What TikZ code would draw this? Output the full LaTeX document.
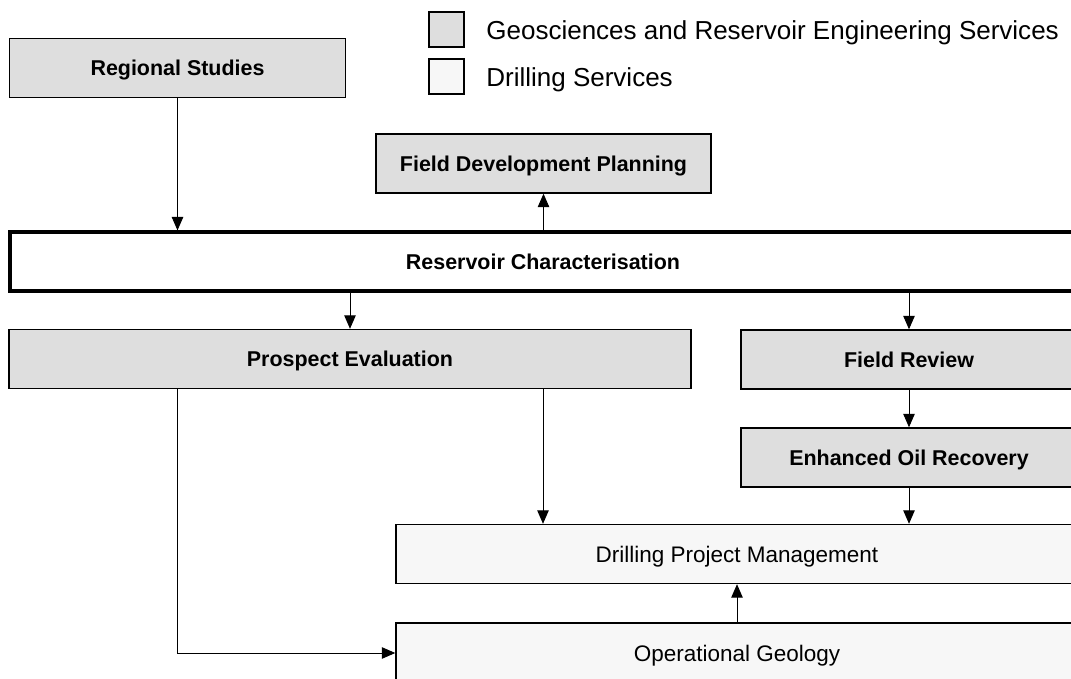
\documentclass[tikz,border=0pt]{standalone}
\usepackage{fontspec}
\setmainfont{Liberation Sans}
\usetikzlibrary{arrows.meta}
\tikzset{
geo box/.style = { rectangle, draw = black, line width = 0.8pt, fill = black!13, minimum height = 11.8mm, inner sep = 0pt, text height = 8.8pt, text depth = 0pt, font = \fontsize{12.2}{15}\selectfont\bfseries },
drill box/.style = { rectangle, draw = black, line width = 0.8pt, fill = black!3, minimum height = 11.8mm, inner sep = 0pt, text height = 9.2pt, text depth = 0pt, font = \fontsize{12.8}{15}\selectfont },
core box/.style = { rectangle, draw = black, line width = 1.8pt, fill = white, minimum height = 11.8mm, inner sep = 0pt, text height = 8.8pt, text depth = 0pt, font = \fontsize{12.2}{15}\selectfont\bfseries },
key/.style = { rectangle, draw = black, line width = 0.8pt, minimum size = 7mm, inner sep = 0pt },
key text/.style = { anchor = west, inner sep = 0pt, font = \fontsize{14.8}{17}\selectfont },
link/.style = { draw = black, line width = 0.55pt, -{Triangle[length = 2.7mm, width = 2.3mm]} },
}

\begin{document}
\begin{tikzpicture}
    \clip (0, 0) rectangle (21.42, -13.58);
    \useasboundingbox (0, 0) rectangle (21.42, -13.58);
    \fill[white] (0, 0) rectangle (21.42, -13.58);
    % legend
    \node[key, fill = black!13] (key geo) at (8.93, -0.59) {};
    \node[key, fill = black!3] (key drill) at (8.93, -1.53) {};
    \node[key text] (text geo) at (9.72, -0.65) {Geosciences and Reservoir Engineering Services};
    \node[key text] (text drill) at (9.72, -1.59) {Drilling Services};
    % boxes
    \node[geo box, minimum width = 67.2mm] (rs) at (3.55, -1.36) {Regional Studies};
    \node[geo box, minimum width = 67mm] (fdp) at (10.87, -3.27) {Field Development Planning};
    \node[core box, minimum width = 213.2mm] (rc) at (10.86, -5.23) {Reservoir Characterisation};
    \node[geo box, minimum width = 136.4mm] (pe) at (7.0, -7.18) {Prospect Evaluation};
    \node[geo box, minimum width = 67.2mm] (fr) at (18.18, -7.19) {Field Review};
    \node[geo box, minimum width = 67.2mm] (eor) at (18.18, -9.15) {Enhanced Oil Recovery};
    \node[drill box, minimum width = 136.4mm] (dpm) at (14.74, -11.08) {Drilling Project Management};
    \node[drill box, minimum width = 136.4mm, minimum height = 12mm] (og) at (14.74, -13.06) {Operational Geology};
    % links
    \draw[link] (rs.south) -- (rs.south |- rc.north);
    \draw[link] (rc.north -| fdp.south) -- (fdp.south);
    \draw[link] (rc.south -| pe.north) -- (pe.north);
    \draw[link] (rc.south -| fr.north) -- (fr.north);
    \draw[link] (fr.south) -- (eor.north);
    \draw[link] (rc.center |- pe.south) -- (rc.center |- dpm.north);
    \draw[link] (eor.south) -- (eor.south |- dpm.north);
    \draw[link] (og.north) -- (dpm.south);
    \draw[link] (rs.south |- pe.south) |- (og.west);
\end{tikzpicture}
\end{document}
